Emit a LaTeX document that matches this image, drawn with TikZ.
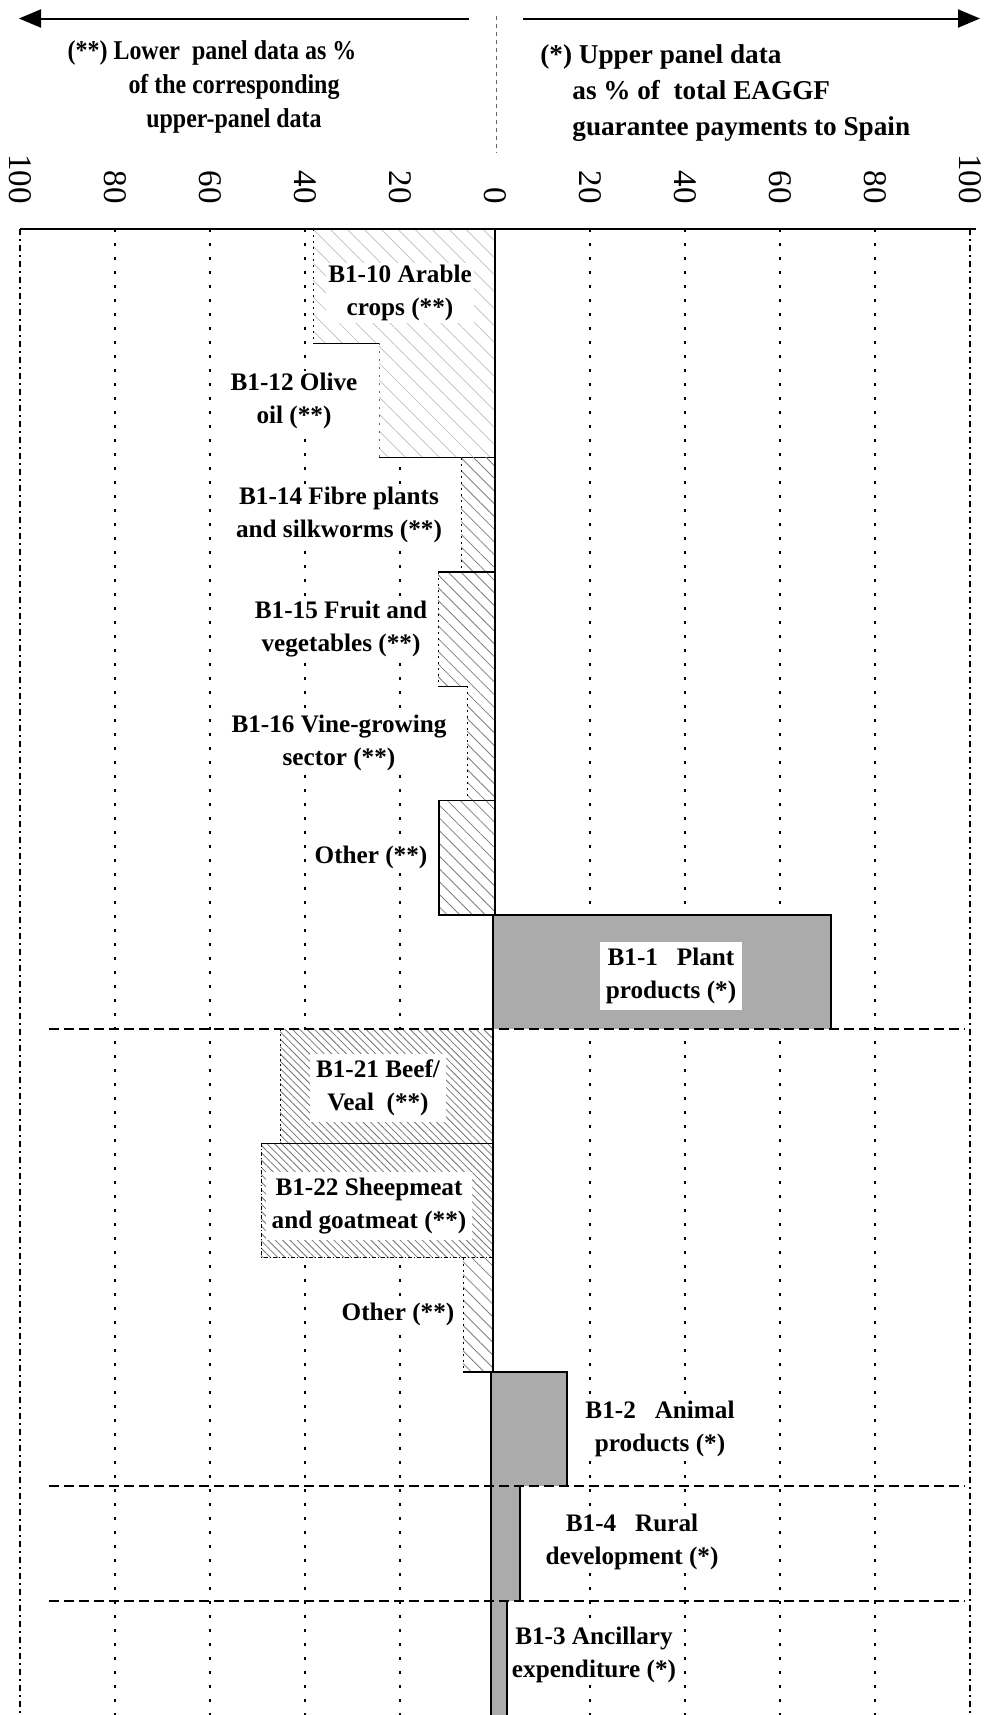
\documentclass[tikz,border=0pt]{standalone}
\usepackage{fontspec}
\setmainfont{Liberation Serif}
\newfontfamily\condserif[FakeStretch=0.88]{Liberation Serif}
\usetikzlibrary{arrows.meta,patterns.meta}
\begin{document}
\begin{tikzpicture}[x=0.5pt,y=-0.5pt,
  grid/.style={line width=1.1pt,dash pattern=on 1.5pt off 5.5pt},
  gridedge/.style={line width=0.7pt,dash pattern=on 3pt off 2pt on 1pt off 2pt},
  sep/.style={line width=1pt,dash pattern=on 5pt off 2.5pt},
  hlight/.style={preaction={fill=white},pattern={Lines[angle=-45,distance=6pt,line width=0.35pt]},pattern color=black!25},
  hmed/.style={preaction={fill=white},pattern={Lines[angle=-45,distance=4.5pt,line width=0.4pt]},pattern color=black!50},
  hdense/.style={preaction={fill=white},pattern={Lines[angle=-45,distance=2.6pt,line width=0.4pt]},pattern color=black!55},
  dotfill/.style={fill=black!33},
  lab/.style={font=\bfseries\fontsize{12.6}{16.4}\selectfont,align=center,fill=white,inner sep=1pt},
  wlab/.style={lab,inner sep=3pt},
  tick/.style={font=\fontsize{16.5}{18}\selectfont,rotate=-90,anchor=east,inner sep=0pt},
  head/.style={font=\bfseries\fontsize{13.6}{18}\selectfont,inner sep=0pt},
  lhead/.style={font=\condserif\bfseries\fontsize{13.6}{17}\selectfont,inner sep=0pt}
]
\useasboundingbox (0,0) rectangle (992,1715);
\fill[white] (0,0) rectangle (992,1715);

% top arrows and header
\draw[line width=1pt,-{Triangle[length=11pt,width=9pt]}] (469,18.5) -- (19,18.5);
\draw[line width=1pt,-{Triangle[length=11pt,width=9pt]}] (523,18.5) -- (980,18.5);
\draw[line width=0.4pt,dash pattern=on 2pt off 2pt,black!60] (496,16) -- (496,153);
\node[lhead,align=center,anchor=north] (hl) at (234,40)
  {(**) Lower\ \ panel data as \%\hspace*{22pt}\\of the corresponding\\upper-panel data};
\node[head,align=left,anchor=north west] (hr) at (540,44)
  {(*) Upper panel data\\\hspace*{16pt}as \% of\ \ total EAGGF\\\hspace*{16pt}guarantee payments to Spain};

% tick labels
\foreach \v [count=\k from 0] in {100,80,60,40,20,0,20,40,60,80,100}
  \node[tick] (t\k) at ({20+95*\k},204) {\v};

% gridlines
\foreach \k in {1,2,3,4,6,7,8,9}
  \draw[grid] ({20+95*\k},229) -- ({20+95*\k},1715);
\draw[gridedge] (20,229) -- (20,1715);
\draw[gridedge] (970,229) -- (970,1715);

% bars (upper panel, lower-panel data as %)
\fill[hlight] (313,229) rectangle (495,343.3);
\draw[line width=0.7pt] (313,343.3) -- (495,343.3) -- (495,229);
\draw[line width=0.5pt,dash pattern=on 1pt off 2pt] (313,229) -- (313,343.3);
\fill[hlight] (379,343.3) rectangle (495,457.6);
\draw[line width=0.7pt] (379,457.6) -- (495,457.6) -- (495,343.3);
\draw[line width=0.4pt,dash pattern=on 1pt off 3pt,black!60] (379,343.3) -- (379,457.6);
\fill[hmed] (461,457.6) rectangle (495,571.9);
\draw[line width=0.7pt] (461,571.9) -- (495,571.9) -- (495,457.6);
\draw[line width=0.4pt,dash pattern=on 1pt off 2pt] (461,457.6) -- (461,571.9);
\fill[hmed] (438,571.9) rectangle (495,686.2);
\draw[line width=0.7pt] (438,686.2) -- (495,686.2) -- (495,571.9) -- (438,571.9);
\draw[line width=0.4pt,dash pattern=on 1pt off 2pt] (438,571.9) -- (438,686.2);
\fill[hmed] (467,686.2) rectangle (495,800.5);
\draw[line width=0.7pt] (467,800.5) -- (495,800.5) -- (495,686.2);
\draw[line width=0.4pt,dash pattern=on 1pt off 2pt] (467,686.2) -- (467,800.5);
\fill[hmed] (439,800.5) rectangle (495,914.8);
\draw[line width=0.7pt] (439,800.5) rectangle (495,914.8);
% plant products
\fill[dotfill] (493,914.8) rectangle (831,1029.1);
\draw[line width=0.8pt] (493,1029.1) -- (493,914.8) -- (831,914.8) -- (831,1029.1);
% animal sectors
\fill[hdense] (280,1029.1) rectangle (493,1143.4);
\draw[line width=0.5pt,dash pattern=on 1pt off 1.5pt] (280,1029.1) -- (280,1143.4);
\draw[line width=0.7pt] (280,1143.4) -- (493,1143.4) -- (493,1029.1);
\fill[hdense] (261,1143.4) rectangle (493,1257.7);
\draw[line width=0.8pt] (261,1143.4) -- (493,1143.4);
\draw[line width=0.5pt,dash pattern=on 2pt off 1pt on 0.5pt off 1pt] (261,1143.4) -- (261,1257.7) -- (493,1257.7);
\draw[line width=0.7pt] (493,1143.4) -- (493,1257.7);
\fill[hmed] (463,1257.7) rectangle (493,1372);
\draw[line width=0.7pt] (463,1372) -- (493,1372) -- (493,1257.7);
\draw[line width=0.4pt,dash pattern=on 1pt off 2pt] (463,1257.7) -- (463,1372);
\fill[dotfill] (491,1372) rectangle (567,1486.3);
\draw[line width=0.8pt] (491,1486.3) -- (491,1372) -- (567,1372) -- (567,1486.3);
\fill[dotfill] (491,1486.3) rectangle (520,1600.6);
\draw[line width=0.8pt] (491,1600.6) -- (491,1486.3) (520,1486.3) -- (520,1600.6);
\fill[dotfill] (491,1600.6) rectangle (507,1715);
\draw[line width=0.8pt] (491,1715) -- (491,1600.6) (507,1600.6) -- (507,1715);

% axis line and separators
\draw[line width=1pt] (20,229) -- (976,229);
\draw[sep] (49,1029.1) -- (965,1029.1);
\draw[sep] (49,1486.3) -- (965,1486.3);
\draw[sep] (49,1600.6) -- (965,1600.6);

% labels
\node[wlab,inner sep=1pt] (l1) at (400,293) {B1-10 Arable\\crops (**)};
\node[lab] (l2) at (294,401) {B1-12 Olive\\oil (**)};
\node[lab] (l3) at (339,515) {B1-14 Fibre plants\\and silkworms (**)};
\node[lab] (l4) at (341,629) {B1-15 Fruit and\\vegetables (**)};
\node[lab] (l5) at (339,743) {B1-16 Vine-growing\\sector (**)};
\node[lab] (l6) at (371,857) {Other (**)};
\node[wlab] (l7) at (671,976) {B1-1\ \ \ Plant\\products (*)};
\node[wlab] (l8) at (378,1088) {B1-21 Beef/\\Veal\ \ (**)};
\node[wlab] (l9) at (369,1206) {B1-22 Sheepmeat\\and goatmeat (**)};
\node[lab] (l10) at (398,1314) {Other (**)};
\node[lab] (l11) at (660,1429) {B1-2\ \ \ Animal\\products (*)};
\node[lab] (l12) at (632,1542) {B1-4\ \ \ Rural\\development (*)};
\node[lab] (l13) at (594,1655) {B1-3 Ancillary\\expenditure (*)};
\end{tikzpicture}
\end{document}
